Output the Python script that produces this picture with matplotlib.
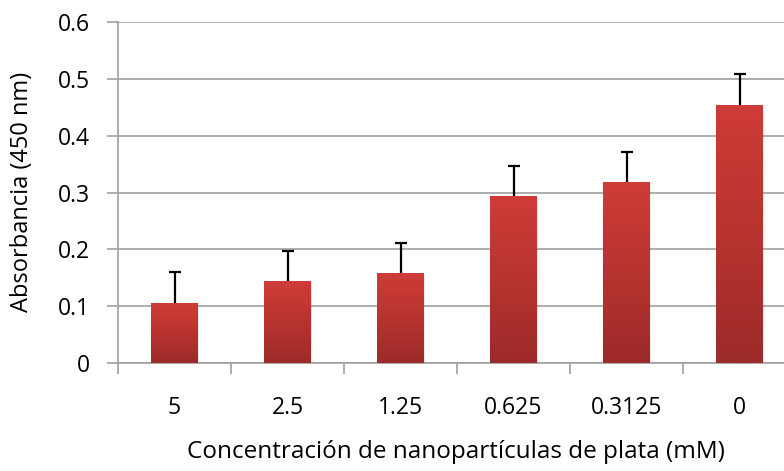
import matplotlib
matplotlib.use("Agg")
import matplotlib.pyplot as plt
import numpy as np
from matplotlib.colors import LinearSegmentedColormap

categories = ["5", "2.5", "1.25", "0.625", "0.3125", "0"]
values = [0.105, 0.144, 0.158, 0.293, 0.318, 0.454]
errors = [0.055, 0.053, 0.054, 0.054, 0.054, 0.055]
yticks = [0, 0.1, 0.2, 0.3, 0.4, 0.5, 0.6]
ytick_labels = ["0", "0.1", "0.2", "0.3", "0.4", "0.5", "0.6"]

plt.rcParams['font.family'] = ['Open Sans', 'DejaVu Sans']

W, H = 784, 471
fig = plt.figure(figsize=(W/100, H/100), dpi=100)
left, right, top, bottom = 118, 796, 22, 363
ax = fig.add_axes([left/W, 1-bottom/H, (right-left)/W, (bottom-top)/H])

x = np.arange(len(categories))
bars = ax.bar(x, values, width=0.41, color='none', zorder=3)
cmap = LinearSegmentedColormap.from_list("rg", ["#9C2B29", "#B8332F", "#CE3C38"])
grad = np.linspace(0, 1, 256).reshape(-1, 1)
for b in bars:
    x0, y0 = b.get_x(), b.get_y()
    w, h = b.get_width(), b.get_height()
    # subtle shadow
    ax.bar(x0 + w/2 + 0.012, h, width=w, bottom=-0.003, color='#000000',
           alpha=0.08, zorder=2.5)
    im = ax.imshow(grad, extent=[x0, x0+w, y0, y0+h], origin='lower',
                   aspect='auto', cmap=cmap, zorder=3)
    im.set_clip_path(b)

eb = ax.errorbar(x, values, yerr=[np.zeros(len(errors)), errors], fmt='none',
                 ecolor='black', elinewidth=1.6, capsize=4.5, capthick=1.6, zorder=4)
caps = eb[1]
if len(caps) >= 2:
    caps[0].set_visible(False)

ax.set_xlim(-0.5, len(categories)-0.5)
ax.set_ylim(0, 0.6)
ax.set_yticks(yticks)
ax.set_yticklabels(ytick_labels)
ax.set_xticks(x)
ax.set_xticklabels(categories)
ax.set_xticks(np.arange(-0.5, len(categories), 1), minor=True)
ax.tick_params(axis='x', which='major', length=0, pad=24, labelsize=16.5)
ax.tick_params(axis='x', which='minor', length=8, color='#A0A0A0', width=1.2)
ax.tick_params(axis='y', length=8, color='#A0A0A0', width=1.2, labelsize=16.5, pad=12)
ax.grid(axis='y', color='#A0A0A0', linewidth=1.2, zorder=0)
ax.set_axisbelow(True)
for s in ['top', 'right']:
    ax.spines[s].set_visible(False)
for s in ['left', 'bottom']:
    ax.spines[s].set_color('#A0A0A0')
    ax.spines[s].set_linewidth(1.2)

fig.text(456/W, 1-452/H, "Concentración de nanopartículas de plata (mM)",
         ha='center', va='center', fontsize=17.5)
fig.text(22/W, 1-192/H, "Absorbancia (450 nm)", rotation=90,
         ha='center', va='center', fontsize=17)

fig.savefig("out.png", dpi=100)
